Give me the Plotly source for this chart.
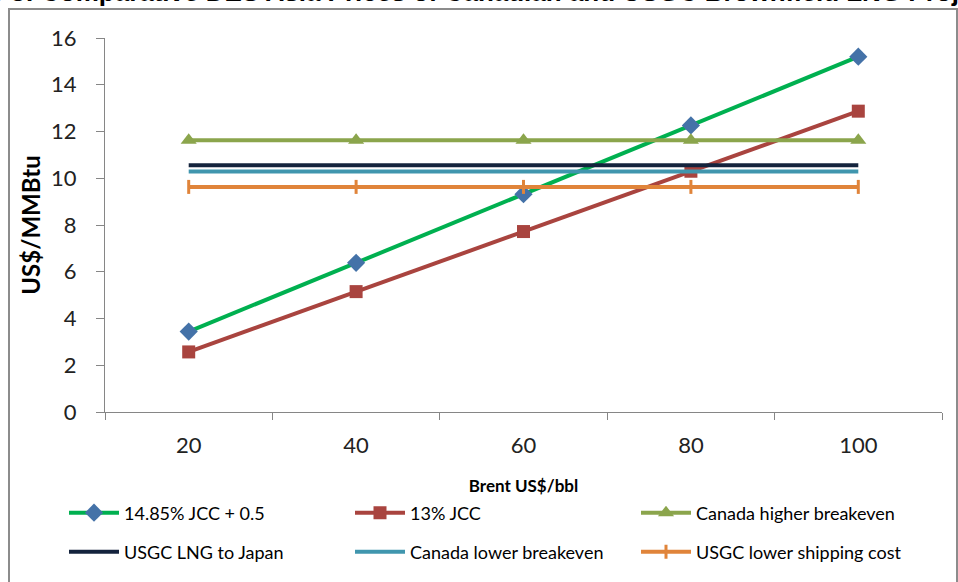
import plotly.graph_objects as go

brent = ["20", "40", "60", "80", "100"]
jcc_1485 = [3.44, 6.38, 9.32, 12.26, 15.20]
jcc_13 = [2.57, 5.15, 7.72, 10.30, 12.87]
canada_high = [11.63, 11.63, 11.63, 11.63, 11.63]
usgc_japan = [10.56, 10.56, 10.56, 10.56, 10.56]
canada_low = [10.29, 10.29, 10.29, 10.29, 10.29]
usgc_low_ship = [9.63, 9.63, 9.63, 9.63, 9.63]

names = ["14.85% JCC + 0.5", "13% JCC", "Canada higher breakeven",
         "USGC LNG to Japan", "Canada lower breakeven", "USGC lower shipping cost"]
title_text = "Figure 3: Comparative DES Asia Prices of Canadian and USGC Brownfield LNG Projects"

FONT = "Lato"
L, R, T, B = 105, 16, 38, 170
W, H = 958, 582
PW, PH = W - L - R, H - T - B


def px(x):
    return (x - L) / PW


def py(y):
    return (H - B - y) / PH


fig = go.Figure()
fig.add_trace(go.Scatter(x=brent, y=jcc_1485, name=names[0], mode="lines+markers",
                         line=dict(color="#00B050", width=4),
                         marker=dict(symbol="diamond", size=14, color="#4472A8"),
                         legend="legend"))
fig.add_trace(go.Scatter(x=brent, y=jcc_13, name=names[1], mode="lines+markers",
                         line=dict(color="#A9443F", width=4),
                         marker=dict(symbol="square", size=13, color="#A9443F"),
                         legend="legend"))
fig.add_trace(go.Scatter(x=brent, y=canada_high, name=names[2], mode="lines+markers",
                         line=dict(color="#8BA54C", width=4),
                         marker=dict(symbol="triangle-up", size=14, color="#8BA54C"),
                         legend="legend"))
fig.add_trace(go.Scatter(x=brent, y=usgc_japan, name=names[3], mode="lines",
                         line=dict(color="#14233D", width=4),
                         legend="legend2"))
fig.add_trace(go.Scatter(x=brent, y=canada_low, name=names[4], mode="lines",
                         line=dict(color="#4096AE", width=4),
                         legend="legend2"))
fig.add_trace(go.Scatter(x=brent, y=usgc_low_ship, name=names[5], mode="lines+markers",
                         line=dict(color="#E0843A", width=4),
                         marker=dict(symbol="line-ns", size=10,
                                     line=dict(color="#E0843A", width=3)),
                         legend="legend2"))

leg_common = dict(orientation="h", xanchor="left", yanchor="middle",
                  font=dict(family=FONT, size=18, color="#000000"),
                  itemwidth=50, entrywidth=221, entrywidthmode="pixels",
                  bgcolor="rgba(0,0,0,0)", itemclick=False, itemdoubleclick=False)

fig.update_layout(
    width=W, height=H,
    margin=dict(l=L, r=R, t=T, b=B, pad=0),
    paper_bgcolor="white", plot_bgcolor="white",
    font=dict(family=FONT, color="#000000"),
    showlegend=True,
    legend=dict(x=px(64), y=py(513), **leg_common),
    legend2=dict(x=px(64), y=py(552), **leg_common),
    xaxis=dict(type="category", range=[-0.5, 4.5], autorange=False, automargin=False,
               tickson="boundaries", ticks="outside", ticklen=7,
               tickcolor="#868686", showline=True, linecolor="#868686", linewidth=1,
               showgrid=False, zeroline=False,
               tickfont=dict(family=FONT, size=22, color="#222222"),
               ticklabelstandoff=14,
               title=dict(text="<b>Brent US$/bbl</b>", font=dict(family=FONT, size=17),
                          standoff=22)),
    yaxis=dict(range=[0, 16], autorange=False, automargin=False, dtick=2,
               ticks="outside", ticklen=8,
               tickcolor="#868686", showline=True, linecolor="#868686", linewidth=1,
               showgrid=False, zeroline=False,
               tickfont=dict(family=FONT, size=22, color="#222222"),
               ticklabelstandoff=15,
               title=dict(text="<b>US$/MMBtu</b>", font=dict(family=FONT, size=24),
                          standoff=3)),
    shapes=[dict(type="rect", xref="paper", yref="paper",
                 x0=px(9), x1=px(957), y0=py(600), y1=py(9),
                 line=dict(color="#8C8C8C", width=2), fillcolor="rgba(0,0,0,0)",
                 layer="below")],
    annotations=[dict(text="<b>" + title_text + "</b>", xref="paper", yref="paper",
                      x=px(-78), y=py(9), xanchor="left", yanchor="bottom",
                      showarrow=False,
                      font=dict(family="Liberation Sans", size=26, color="#000000"))],
)

fig.write_html("out.html", config={"displayModeBar": False},
               post_script="document.body.style.margin='0';")
